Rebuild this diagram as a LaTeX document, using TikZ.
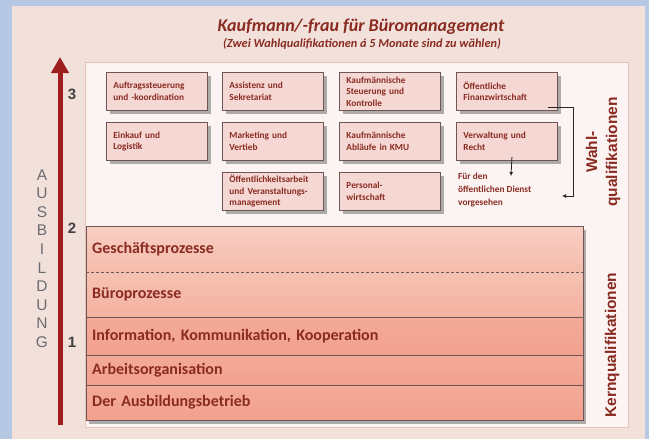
\documentclass[tikz,border=0pt]{standalone}
\usepackage{fontspec}
\setmainfont{Carlito}
\newfontfamily\arialf{Liberation Sans}
\usetikzlibrary{shadows,arrows.meta}
\definecolor{bgblue}{HTML}{B7C8E4}
\definecolor{panel}{HTML}{F2E1DB}
\definecolor{wpanel}{HTML}{FCF4F2}
\definecolor{wborder}{HTML}{E3C3BA}
\definecolor{boxfill}{HTML}{F5D8D3}
\definecolor{boxline}{HTML}{6E5656}
\definecolor{dred}{HTML}{8A2B22}
\definecolor{ared}{HTML}{9E1E1E}
\definecolor{kAt}{HTML}{F8CEC3}
\definecolor{kAb}{HTML}{F5BCAC}
\definecolor{kBt}{HTML}{F6C2B3}
\definecolor{kBb}{HTML}{F4B1A0}
\definecolor{kCt}{HTML}{F3AA98}
\definecolor{kCb}{HTML}{F2A18E}
\definecolor{ausgray}{HTML}{6B6B70}
\begin{document}
\begin{tikzpicture}[x=1pt,y=-1pt,
  wbox/.style={draw=boxline, line width=0.9pt, fill=boxfill, anchor=north west,
    minimum width=101pt, minimum height=38pt, text width=87pt, inner sep=0pt,
    align=left, font=\fontsize{9.3}{11.5}\selectfont\bfseries, text=dred,
    drop shadow={shadow xshift=4pt, shadow yshift=-4pt, fill=black!40, opacity=0.8}},
  krow/.style={anchor=north west, minimum width=497pt, text width=485pt, inner sep=0pt,
    align=left, font=\fontsize{16}{18}\selectfont\bfseries, text=dred},
  aus/.style={font=\arialf\fontsize{15.5}{15.5}\selectfont, text=ausgray, inner sep=0pt},
  num/.style={font=\arialf\fontsize{15}{15}\selectfont\bfseries, text=black!75, inner sep=0pt},
  vlabel/.style={rotate=90, align=center, font=\arialf\fontsize{15.5}{20}\selectfont\bfseries, text=dred, inner sep=0pt},
  conn/.style={draw=black!85, line width=0.8pt, -{Latex[length=4pt,width=4pt]}}
]
\useasboundingbox (0,0) rectangle (649,439);
\fill[bgblue] (0,0) rectangle (649,439);
\node[fill=panel, anchor=north west, minimum width=633pt, minimum height=433pt, inner sep=0pt] (pnl) at (12,6) {};
\node[fill=wpanel, draw=wborder, line width=1pt, anchor=north west, minimum width=543pt, minimum height=365pt, inner sep=0pt] (wp) at (85,62) {};

% title
\node[font=\fontsize{18}{20}\selectfont\bfseries\itshape, text=dred] (title) at (361,27) {Kaufmann/-frau für Büromanagement};
\node[font=\fontsize{12.3}{14}\selectfont\bfseries\itshape, text=dred] (sub) at (362,44) {(Zwei Wahlqualifikationen á 5 Monate sind zu wählen)};

% vertical arrow
\coordinate (arB) at (60,425);
\coordinate (arT) at (60,57);
\draw[ared, line width=5pt, -{Triangle[length=16pt,width=17pt]}] (arB) -- (arT);

% AUSBILDUNG
\foreach \l [count=\i] in {A,U,S,B,I,L,D,U,N,G}
  \node[aus] (a\i) at (42,{175+18.55*(\i-1)}) {\l};

\node[num] (n3) at (72,94) {3};
\node[num] (n2) at (72,228) {2};
\node[num] (n1) at (72,342) {1};

% Wahlqualifikationen boxes
\node[wbox] (b11) at (106,72) {Auftragssteuerung\\und -koordination};
\node[wbox] (b12) at (222,72) {Assistenz und\\Sekretariat};
\node[wbox] (b13) at (339,72) {Kaufmännische\\Steuerung und\\Kontrolle};
\node[wbox] (b14) at (456,72) {Öffentliche\\Finanzwirtschaft};
\node[wbox] (b21) at (106,122) {Einkauf und\\Logistik};
\node[wbox] (b22) at (222,122) {Marketing und\\Vertieb};
\node[wbox] (b23) at (339,122) {Kaufmännische\\Abläufe in KMU};
\node[wbox] (b24) at (456,122) {Verwaltung und\\Recht};
\node[wbox] (b32) at (222,172) {Öffentlichkeitsarbeit\\und Veranstaltungs-\\management};
\node[wbox] (b33) at (339,172) {Personal-\\wirtschaft};

\node[anchor=north west, inner sep=0pt, align=left, font=\fontsize{9.3}{13}\selectfont\bfseries, text=dred] (dn) at (458,173) {Für den\\öffentlichen Dienst\\vorgesehen};

\coordinate (fr) at ([xshift=-10pt,yshift=4pt]b14.south east);
\coordinate (tgt) at (562,196);
\draw[conn] (fr) -- ++(25,0) |- (tgt);
\coordinate (vd) at ([xshift=5pt,yshift=4pt]b24.south);
\coordinate (vdend) at (511,176);
\draw[conn] (vd) -- (vdend);

\node[vlabel] (wahl) at (603,152) {Wahl-\\qualifikationen};

% Kernqualifikationen stack
\node[anchor=north west, minimum width=497pt, minimum height=194pt, inner sep=0pt, fill=kCb,
  drop shadow={shadow xshift=3pt, shadow yshift=-4pt, fill=black!40, opacity=0.8}] (kst) at (86,226) {};
\node[krow, minimum height=46pt, top color=kAt, bottom color=kAb] (k1) at (86,226) {Geschäftsprozesse};
\node[krow, minimum height=45pt, top color=kBt, bottom color=kBb] (k2) at (86,272) {Büroprozesse};
\node[krow, minimum height=38pt, top color=kCt, bottom color=kCb] (k3) at (86,317) {Information, Kommunikation, Kooperation};
\node[krow, minimum height=30pt, top color=kCt, bottom color=kCb] (k4) at (86,355) {Arbeitsorganisation};
\node[krow, minimum height=35pt, top color=kCt, bottom color=kCb] (k5) at (86,385) {Der Ausbildungsbetrieb};
\draw[boxline, line width=0.6pt, densely dashed] (k1.south west) -- (k1.south east);
\draw[boxline, line width=0.8pt] (k2.south west) -- (k2.south east);
\draw[boxline, line width=0.8pt] (k3.south west) -- (k3.south east);
\draw[boxline, line width=0.8pt] (k4.south west) -- (k4.south east);
\draw[boxline, line width=0.9pt] (k1.north west) rectangle (k5.south east);

\node[vlabel] (kern) at (612,345) {Kernqualifikationen};
\end{tikzpicture}
\end{document}
